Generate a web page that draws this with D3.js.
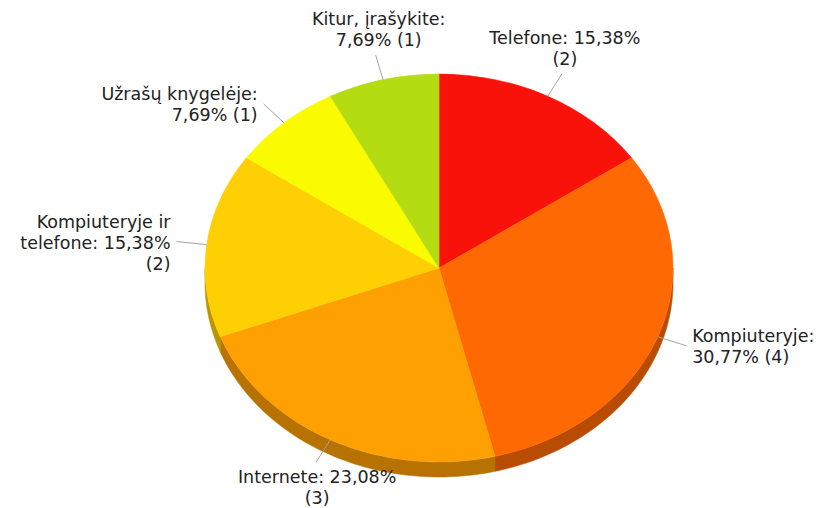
<!DOCTYPE html>
<html lang="lt">
<head>
    <meta charset="UTF-8">
    <title>Pie</title>
    <style>
        body {
            margin: 0;
            background: #fff;
        }
        svg {
            display: block;
        }
        .label {
            font-family: 'DejaVu Sans', Verdana, sans-serif;
            font-size: 17.5px;
            fill: #222;
        }
    </style>
</head>
<body>
    <svg id="chart" width="816" height="508"></svg>

    <script src="https://d3js.org/d3.v7.min.js"></script>
    <script>
        // data (clockwise from 12 o'clock)
        const categories = ['Telefone', 'Kompiuteryje', 'Internete', 'Kompiuteryje ir telefone', 'Užrašų knygelėje', 'Kitur, įrašykite'];
        const counts = [2, 4, 3, 2, 1, 1];
        const colors = ['#f9120a', '#ff6903', '#fe9f02', '#fed003', '#fbfb00', '#b4dc12'];

        const width = 816, height = 508;
        const cx = 439, cy = 268;
        const rx = 234, ry = 194;
        const depth = 15;
        const labelFactor = 1.13;
        const lineH = 21;
        const maxLabelW = 168;

        const svg = d3.select('#chart');
        const total = d3.sum(counts);
        const fmt = v => d3.format('.2f')(v).replace('.', ',');

        const pie = d3.pie().sort(null).value(d => d.count);
        const arcs = pie(categories.map((c, i) => ({ name: c, count: counts[i], color: colors[i] })));

        const pt = (a, k) => [rx * k * Math.sin(a), -ry * k * Math.cos(a)];

        const g = svg.append('g').attr('transform', `translate(${cx},${cy})`);

        // sides of the pie (only the front half is visible)
        const line = d3.line();
        const sides = g.append('g');
        arcs.forEach(a => {
            const s = Math.max(a.startAngle, Math.PI / 2);
            const e = Math.min(a.endAngle, Math.PI * 1.5);
            if (e <= s) return;
            const n = 60;
            const top = d3.range(n + 1).map(i => pt(s + (e - s) * i / n, 1));
            const bottom = top.slice().reverse().map(p => [p[0], p[1] + depth]);
            const c = d3.rgb(a.data.color);
            const dark = d3.rgb(c.r * 0.72, c.g * 0.72, c.b * 0.72);
            sides.append('path')
                .attr('d', line(top.concat(bottom)) + 'Z')
                .attr('fill', dark)
                .attr('stroke', dark)
                .attr('stroke-width', 0.5);
        });

        // top faces
        const arc = d3.arc().innerRadius(0).outerRadius(rx);
        g.append('g')
            .attr('transform', `scale(1,${ry / rx})`)
            .selectAll('path')
            .data(arcs)
            .enter().append('path')
            .attr('d', arc)
            .attr('fill', d => d.data.color)
            .attr('stroke', d => d.data.color)
            .attr('stroke-width', 0.6);

        // labels with leader lines
        const labels = g.append('g');
        arcs.forEach(a => {
            const mid = (a.startAngle + a.endAngle) / 2;
            const p0 = pt(mid, 1);
            const p1 = pt(mid, labelFactor);
            labels.append('line')
                .attr('x1', p0[0]).attr('y1', p0[1])
                .attr('x2', p1[0]).attr('y2', p1[1])
                .attr('stroke', '#a3a3a3')
                .attr('stroke-width', 1);

            const text = `${a.data.name}: ${fmt(a.data.count / total * 100)}% (${a.data.count})`;
            const t = labels.append('text').attr('class', 'label');

            // simple word wrap
            const words = text.split(' ');
            const rows = [];
            let cur = '';
            const probe = t.append('tspan');
            words.forEach(w => {
                const test = cur ? cur + ' ' + w : w;
                probe.text(test);
                if (cur && probe.node().getComputedTextLength() > maxLabelW) {
                    rows.push(cur);
                    cur = w;
                } else {
                    cur = test;
                }
            });
            rows.push(cur);
            probe.remove();

            const sn = Math.sin(mid), cs = Math.cos(mid);
            let x, y0, anchor;
            if (Math.abs(sn) > 0.5) {
                anchor = sn > 0 ? 'start' : 'end';
                x = p1[0] + (sn > 0 ? 6 : -6);
                y0 = p1[1] + 7 - (rows.length - 1) * lineH / 2;
            } else if (cs > 0) {
                anchor = 'middle';
                x = p1[0] + 3;
                y0 = p1[1] - 9 - (rows.length - 1) * lineH;
            } else {
                anchor = 'middle';
                x = p1[0] + 1;
                y0 = p1[1] + 21;
            }
            t.attr('text-anchor', anchor);
            rows.forEach((r, i) => {
                t.append('tspan')
                    .attr('x', x)
                    .attr('y', y0 + i * lineH)
                    .text(r);
            });
        });
    </script>
</body>
</html>
